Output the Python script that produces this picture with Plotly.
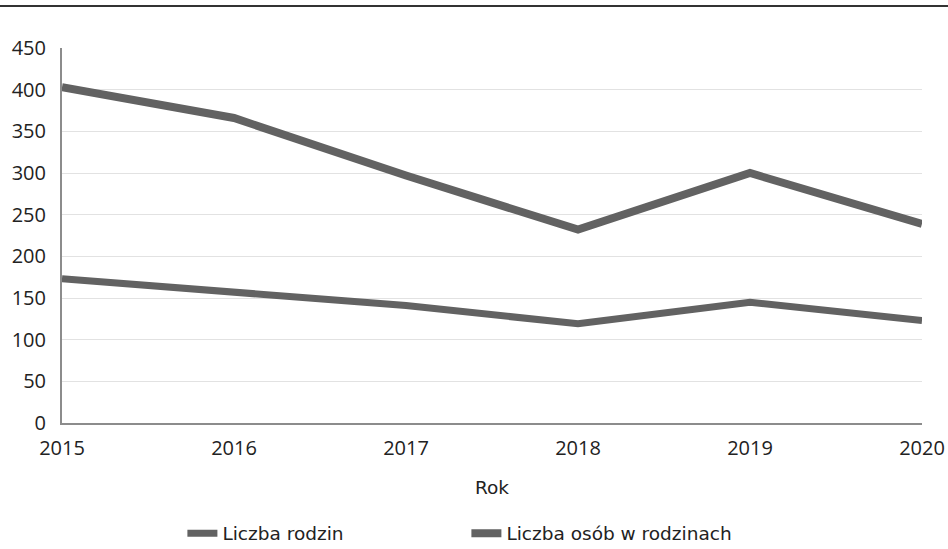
import plotly.graph_objects as go

# dane z wykresu
lata = [2015, 2016, 2017, 2018, 2019, 2020]
liczba_rodzin = [173, 157, 141, 119, 145, 123]
liczba_osob = [403, 366, 297, 232, 300, 239]

kolor = "#626262"
czcionka_osi = "Open Sans, sans-serif"
czcionka_legendy = "DejaVu Sans, sans-serif"

fig = go.Figure()
fig.add_trace(go.Scatter(x=lata, y=liczba_rodzin, mode="lines", name="Liczba rodzin",
                         line=dict(color=kolor, width=7)))
fig.add_trace(go.Scatter(x=lata, y=liczba_osob, mode="lines", name="Liczba osób w rodzinach",
                         line=dict(color=kolor, width=8)))

# ciemna linia u góry (obcięty tytuł)
fig.add_shape(type="line", xref="paper", yref="paper", x0=-0.08, x1=1.04, y0=1.112, y1=1.112,
              line=dict(color="#333333", width=2))

fig.update_layout(
    width=948, height=549,
    paper_bgcolor="white", plot_bgcolor="white",
    margin=dict(l=62, r=26, t=48, b=126, autoexpand=False),
    font=dict(family=czcionka_osi, size=20, color="#222222"),
    showlegend=True,
    legend=dict(orientation="h", x=0.14, xanchor="left", y=-0.295, yanchor="middle",
                font=dict(family=czcionka_legendy, size=18.5), entrywidth=239),
    xaxis=dict(range=[2015, 2020], tickvals=lata, showgrid=False, showline=True,
               linecolor="#8c8c8c", linewidth=2, ticks="", zeroline=False,
               tickfont=dict(size=20), ticklabelstandoff=6,
               title=dict(text="Rok", standoff=21,
                          font=dict(family=czcionka_legendy, size=18.5))),
    yaxis=dict(range=[0, 450], dtick=50, showgrid=True, gridcolor="#e2e2e2", gridwidth=1,
               showline=True, linecolor="#8c8c8c", linewidth=2, zeroline=False, ticks="",
               ticklabelstandoff=10),
)

# bez marginesu strony
fig.write_html("out.html", config={"displayModeBar": False},
               post_script="document.body.style.margin='0px';")
